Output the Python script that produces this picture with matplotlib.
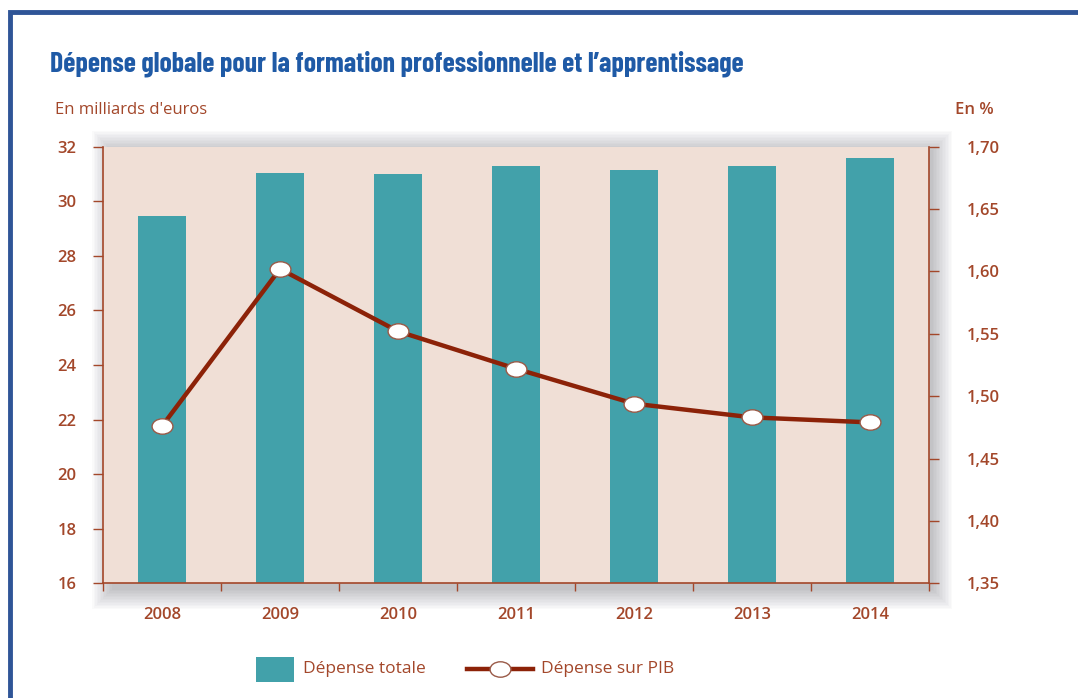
import matplotlib
matplotlib.use("Agg")
import matplotlib.pyplot as plt
from matplotlib.patches import Rectangle
from matplotlib.lines import Line2D
from matplotlib.path import Path
from matplotlib.transforms import Affine2D
from matplotlib import font_manager
from matplotlib.font_manager import FontProperties
import numpy as np

years = ["2008", "2009", "2010", "2011", "2012", "2013", "2014"]
depense_totale = [29.45, 31.03, 30.99, 31.29, 31.14, 31.30, 31.57]
depense_pib = [1.476, 1.602, 1.552, 1.522, 1.494, 1.483, 1.479]
left_ticks = [16, 18, 20, 22, 24, 26, 28, 30, 32]
right_ticks = [1.35, 1.40, 1.45, 1.50, 1.55, 1.60, 1.65, 1.70]
right_labels = ["1,35", "1,40", "1,45", "1,50", "1,55", "1,60", "1,65", "1,70"]

names = {f.name for f in font_manager.fontManager.ttflist}
body_font = "Open Sans" if "Open Sans" in names else "DejaVu Sans"

# pick a condensed bold font for the title
title_fp = None
title_size = 20
for pref, size in [("barlowcondensed-bold.ttf", 20.0), ("robotocondensed-bold.ttf", 18.0),
                   ("dejavusanscondensed-bold.ttf", 16)]:
    for f in font_manager.fontManager.ttflist:
        if f.fname.lower().endswith(pref):
            title_fp = FontProperties(fname=f.fname)
            title_size = size
            break
    if title_fp is not None:
        break
if title_fp is None:
    title_fp = FontProperties(family="DejaVu Sans", weight="bold")
    title_size = 15

BROWN = "#A3472A"
TEAL = "#42A1AA"
BG = "#F0DFD6"
LINE = "#8C2208"
BLUE = "#1F5AA6"
MEDGE = "#9A5A48"

ellipse = Path.unit_circle().transformed(Affine2D().scale(1.0, 0.74))

W, H = 1078, 698
fig = plt.figure(figsize=(W / 100, H / 100), dpi=100)
fig.patch.set_facecolor("white")

def fx(px):
    return px / W

def fy(py):
    return 1 - py / H

fig.patches.append(Rectangle((fx(10), fy(760)), fx(1100), 748 / H,
                             transform=fig.transFigure, fill=False,
                             edgecolor="#2F5597", linewidth=3.5, zorder=0))

L, R, T, B = 103, 929, 146.7, 583.3
ax = fig.add_axes([fx(L), fy(B), fx(R - L), (B - T) / H])

# soft drop shadow (mostly right / below)
for i in range(14):
    pad = 1.5 * (i + 1)
    fig.patches.append(Rectangle((fx(L - pad + 10), fy(B + pad + 5)),
                                 fx(R - L - 8 + 2 * pad), (B - T + 2 * pad) / H,
                                 transform=fig.transFigure, facecolor="#202030",
                                 edgecolor="none", alpha=0.02, zorder=0.5))

ax.set_facecolor(BG)
x = np.arange(len(years))
ax.bar(x, depense_totale, width=0.4, color=TEAL, zorder=2)
ax.set_xlim(-0.5, len(years) - 0.5)
ax.set_ylim(16, 32)
ax.set_yticks(left_ticks)
ax.set_yticklabels([str(t) for t in left_ticks])
ax.set_xticks(np.arange(-0.5, len(years) - 0.5 + 0.01, 1.0))
ax.set_xticklabels([])
ax.set_xticks(x, minor=True)
ax.set_xticklabels(years, minor=True)
ax.tick_params(axis="x", which="minor", length=0, pad=17)
ax.tick_params(axis="x", which="major", length=6, width=1, color=BROWN, direction="out")
ax.tick_params(axis="y", length=7, width=1, color=BROWN, direction="out", pad=12)

for s in ["top", "right"]:
    ax.spines[s].set_visible(False)
for s in ["left", "bottom"]:
    ax.spines[s].set_color(BROWN)
    ax.spines[s].set_linewidth(1.2)

for lab in ax.get_yticklabels() + ax.get_xticklabels(minor=True):
    lab.set_fontfamily(body_font)
    lab.set_fontsize(12)
    lab.set_fontweight("semibold")
    lab.set_color(BROWN)

ax2 = ax.twinx()
ax.set_zorder(2)
ax2.set_zorder(3)
ax2.patch.set_visible(False)
ax2.plot(x, depense_pib, color=LINE, linewidth=3.2, marker=ellipse, markersize=15,
         markerfacecolor="white", markeredgecolor=MEDGE, markeredgewidth=1.0,
         zorder=3)
ax2.set_ylim(1.35, 1.70)
ax2.set_yticks(right_ticks)
ax2.set_yticklabels(right_labels)
ax2.tick_params(axis="y", length=7, width=1, color=BROWN, direction="out", pad=20)
for s in ["top", "left", "bottom"]:
    ax2.spines[s].set_visible(False)
ax2.spines["right"].set_color(BROWN)
ax2.spines["right"].set_linewidth(1.2)
for lab in ax2.get_yticklabels():
    lab.set_fontfamily(body_font)
    lab.set_fontsize(12)
    lab.set_fontweight("semibold")
    lab.set_color(BROWN)

t = fig.text(fx(50), fy(64), "Dépense globale pour la formation professionnelle et l’apprentissage",
             fontproperties=title_fp, color=BLUE, ha="left", va="center")
t.set_fontsize(title_size)
fig.text(fx(55), fy(110), "En milliards d'euros", fontfamily=body_font,
         fontsize=12, color=BROWN, ha="left", va="center")
fig.text(fx(994), fy(110), "En %", fontfamily=body_font, fontsize=12,
         fontweight="semibold", color=BROWN, ha="right", va="center")

fig.patches.append(Rectangle((fx(256), fy(682)), fx(38), 25 / H,
                             transform=fig.transFigure, facecolor=TEAL,
                             edgecolor="none"))
fig.text(fx(303), fy(669), "Dépense totale", fontfamily=body_font, fontsize=12.5,
         color=BROWN, ha="left", va="center")
fig.lines.append(Line2D([fx(467), fx(533)], [fy(669), fy(669)],
                        transform=fig.transFigure, color=LINE, linewidth=3.2))
fig.lines.append(Line2D([fx(500)], [fy(669)], transform=fig.transFigure,
                        marker=ellipse, markersize=15, markerfacecolor="white",
                        markeredgecolor=MEDGE, markeredgewidth=1.0, linestyle="none"))
fig.text(fx(541), fy(669), "Dépense sur PIB", fontfamily=body_font, fontsize=12.5,
         color=BROWN, ha="left", va="center")

fig.savefig("out.png", dpi=100)
